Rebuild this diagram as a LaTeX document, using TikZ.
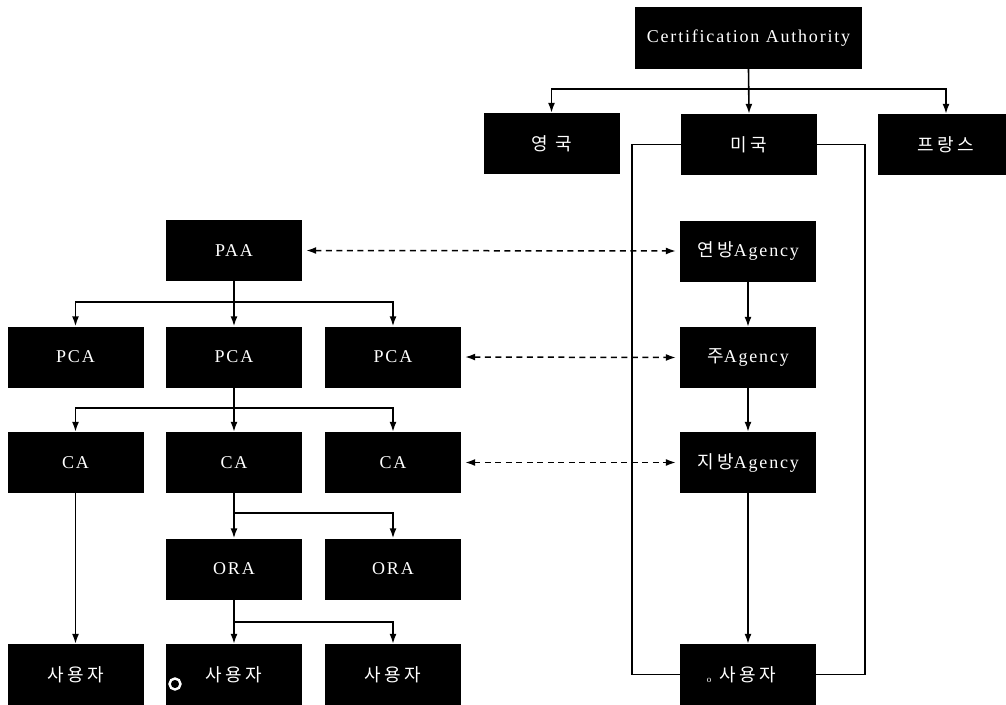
\documentclass[tikz,border=0pt]{standalone}
\usepackage{fontspec}
\setmainfont[LetterSpace=10]{Liberation Serif}
\newfontfamily\kr[LetterSpace=20]{Noto Sans CJK KR}
\usetikzlibrary{arrows.meta}

\tikzset{
  blk/.style={fill=black, text=white, inner sep=0pt, minimum width=136pt,
    minimum height=61pt, font=\fontsize{18}{21}\selectfont},
  tip/.style={Latex[length=10pt,width=7pt]},
  conn/.style={line width=1.6pt, -{Latex[length=10pt,width=7pt]}},
  link/.style={line width=1.6pt},
  peer/.style={line width=1.5pt, dash pattern=on 6pt off 4.5pt,
    {Latex[length=10pt,width=7pt]}-{Latex[length=10pt,width=7pt]},
    shorten <=4pt, shorten >=4pt},
}

\begin{document}
\begin{tikzpicture}[x=1pt, y=-1pt]
\useasboundingbox (0,0) rectangle (1006,704);

% national level
\node[blk, minimum width=227pt, minimum height=62pt] (root) at (748.5,38) {Certification Authority};
\node[blk] (uk)  at (551.5,143.5) {\kr 영 국};
\node[blk] (usa) at (749,144.5)   {\kr 미국};
\node[blk] (fr)  at (946,144.5)   {\kr 프랑스};

% US chain
\node[blk] (fed)   at (748,251)   {{\kr 연방}Agency};
\node[blk] (state) at (748,357.5) {{\kr 주}Agency};
\node[blk] (local) at (748,462.5) {{\kr 지방}Agency};
\node[blk] (u4)    at (748,674.5) {{\kr 사용자}};
\node[text=white, inner sep=0pt, font=\fontsize{9}{9}\selectfont] (m2) at (709,680) {o};

% PAA tree
\node[blk] (paa)  at (234,250.5) {PAA};
\node[blk] (pca1) at (75.5,357)  {PCA};
\node[blk] (pca2) at (234,357)   {PCA};
\node[blk] (pca3) at (393,357)   {PCA};
\node[blk] (ca1)  at (75.5,462.5) {CA};
\node[blk] (ca2)  at (234,462.5) {CA};
\node[blk] (ca3)  at (393,462.5) {CA};
\node[blk] (ora1) at (234,569)   {ORA};
\node[blk] (ora2) at (393,569)   {ORA};
\node[blk] (u1)   at (75.5,674.5) {\kr 사용자};
\node[blk] (u2)   at (234,674.5) {\kr 사용자};
\node[blk] (u3)   at (393,674.5) {\kr 사용자};
\node[circle, draw=white, line width=2.4pt, minimum size=11pt, inner sep=0pt] (m1) at (175,684) {};

% root fan-out
\draw[conn] (root.south) -- (usa.north);
\draw[conn] (root.south) ++(0,20) -| (uk.north);
\draw[conn] (root.south) ++(0,20) -| (fr.north);

% frame around the US chain
\draw[link] (usa.west) -- ++(-49,0) |- (u4.west);
\draw[link] (usa.east) -- ++(48,0) |- (u4.east);

\draw[conn] (fed) -- (state);
\draw[conn] (state) -- (local);
\draw[conn] (local) -- (u4);

% PAA to PCA
\draw[conn] (paa.south) -- (pca2.north);
\draw[conn] (paa.south) ++(0,21) -| (pca1.north);
\draw[conn] (paa.south) ++(0,21) -| (pca3.north);

% PCA to CA
\draw[conn] (pca2.south) -- (ca2.north);
\draw[conn] (pca2.south) ++(0,20) -| (ca1.north);
\draw[conn] (pca2.south) ++(0,20) -| (ca3.north);

% CA to ORA and users
\draw[conn] (ca1) -- (u1);
\draw[conn] (ca2.south) -- (ora1.north);
\draw[conn] (ca2.south) ++(0,20) -| (ora2.north);
\draw[conn] (ora1.south) -- (u2.north);
\draw[conn] (ora1.south) ++(0,22) -| (u3.north);

% cross links
\draw[peer] (paa.east) -- (fed.west);
\draw[peer] (pca3.east) -- (state.west);
\draw[peer] (ca3.east) -- (local.west);
\end{tikzpicture}
\end{document}
